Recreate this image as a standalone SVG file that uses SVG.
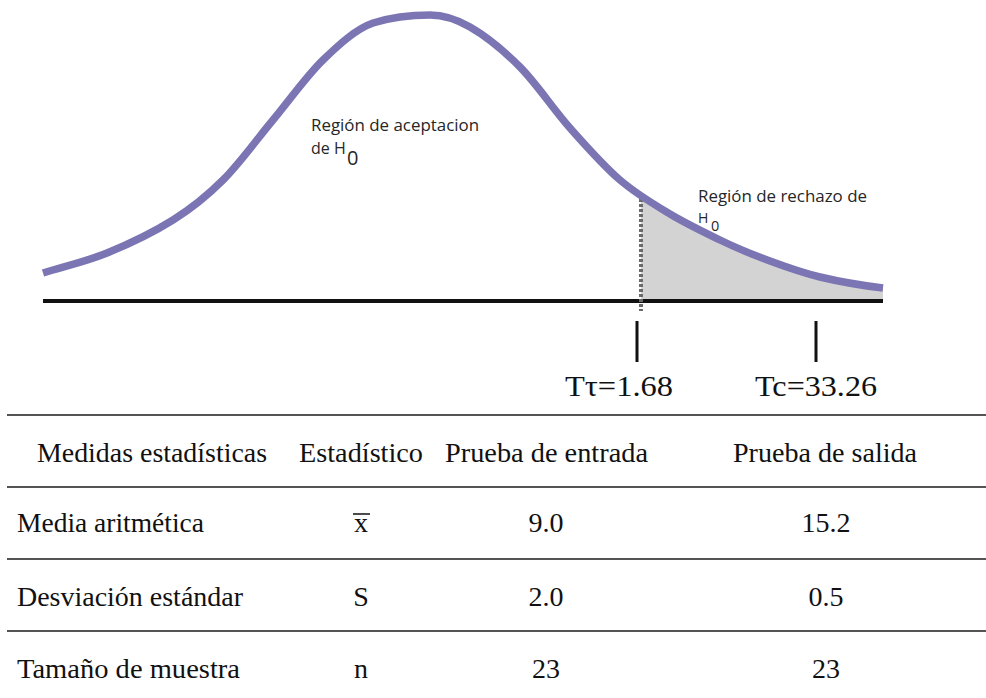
<svg xmlns="http://www.w3.org/2000/svg" width="986" height="698" viewBox="0 0 986 698">
<style>
.curve{fill:none;stroke:#7b76b3;stroke-width:7.5;stroke-linecap:butt}
.lbl{font-family:"Open Sans","Liberation Sans",sans-serif;font-size:16px;fill:#262626}
.serif{font-family:"Liberation Serif","Times New Roman",serif;fill:#111}
.t{font-size:28px}
.big{font-size:30px}
.rule{stroke:#555;stroke-width:2}
.tick{stroke:#111;stroke-width:3}
</style>
<defs>
<clipPath id="tail"><rect x="641" y="0" width="250" height="302"/></clipPath>
<path id="bell" d="M43,273 C64.3,266.3 85.7,261.7 107,253 C129,244 151,233.8 173,220 C189.7,209.5 206.3,196.7 223,180 C239.7,163.3 256.3,140 273,120 C289.7,100 306.3,76.2 323,60 C339.7,43.8 356.3,28.8 373,23 C392,17 411,15 430,15 C443.3,15 456.7,19.3 470,27 C486.7,36.6 503.3,50.2 520,67 C536.7,83.8 553.3,109.2 570,128 C586.7,146.8 603.3,165.7 620,180 C636.7,194.3 653.3,204 670,214 C686.7,224 703.3,231.8 720,240 C736.7,248.2 753.3,254.8 770,261 C786.7,267.2 803.3,273 820,277 C841,282 862,285.5 883,288"/>
</defs>
<rect width="986" height="698" fill="#fff"/>

<g id="shaded-region" clip-path="url(#tail)">
<path fill="#d3d3d3" d="M43,273 C64.3,266.3 85.7,261.7 107,253 C129,244 151,233.8 173,220 C189.7,209.5 206.3,196.7 223,180 C239.7,163.3 256.3,140 273,120 C289.7,100 306.3,76.2 323,60 C339.7,43.8 356.3,28.8 373,23 C392,17 411,15 430,15 C443.3,15 456.7,19.3 470,27 C486.7,36.6 503.3,50.2 520,67 C536.7,83.8 553.3,109.2 570,128 C586.7,146.8 603.3,165.7 620,180 C636.7,194.3 653.3,204 670,214 C686.7,224 703.3,231.8 720,240 C736.7,248.2 753.3,254.8 770,261 C786.7,267.2 803.3,273 820,277 C841,282 862,285.5 883,288 L883,301 L43,301 Z"/>
</g>

<g id="connectors">
<line id="baseline" x1="43" y1="301" x2="883" y2="301" stroke="#111" stroke-width="4"/>
<line id="critical-dashed" x1="641" y1="199" x2="641" y2="311" stroke="#6a6a6a" stroke-width="4" stroke-dasharray="3,2"/>
<line class="tick" x1="637" y1="321" x2="637" y2="362"/>
<line class="tick" x1="816" y1="321" x2="816" y2="362"/>
</g>

<g id="bell-curve">
<use href="#bell" class="curve"/>
</g>

<g id="label-aceptacion">
<text class="lbl" x="311" y="131" textLength="168" lengthAdjust="spacingAndGlyphs">Región de aceptacion</text>
<text class="lbl" x="311" y="154">de H</text>
<text class="lbl" x="347" y="165" style="font-size:20px">0</text>
</g>

<g id="label-rechazo">
<text class="lbl" x="698" y="202" textLength="169" lengthAdjust="spacingAndGlyphs">Región de rechazo de</text>
<text class="lbl" x="698" y="223" style="font-size:14px">H</text>
<text class="lbl" x="711" y="231" style="font-size:14.5px">0</text>
</g>

<g id="label-ttabla">
<text class="serif big" x="565" y="396" textLength="108" lengthAdjust="spacingAndGlyphs">Tτ=1.68</text>
</g>
<g id="label-tcalc">
<text class="serif big" x="755" y="396" textLength="122" lengthAdjust="spacingAndGlyphs">Tc=33.26</text>
</g>

<g id="table">
<line class="rule" x1="7" y1="415" x2="986" y2="415"/>
<line class="rule" x1="7" y1="487" x2="986" y2="487"/>
<line class="rule" x1="7" y1="559" x2="986" y2="559"/>
<line class="rule" x1="7" y1="631" x2="986" y2="631"/>

<g class="serif t">
<text x="37" y="462" textLength="230" lengthAdjust="spacingAndGlyphs">Medidas estadísticas</text>
<text x="299" y="462" textLength="124" lengthAdjust="spacingAndGlyphs">Estadístico</text>
<text x="445" y="462" textLength="203" lengthAdjust="spacingAndGlyphs">Prueba de entrada</text>
<text x="733" y="462" textLength="184" lengthAdjust="spacingAndGlyphs">Prueba de salida</text>

<text x="17" y="532" textLength="187" lengthAdjust="spacingAndGlyphs">Media aritmética</text>
<text x="361" y="532" text-anchor="middle">x</text>
<text x="546" y="532" text-anchor="middle">9.0</text>
<text x="826" y="532" text-anchor="middle">15.2</text>

<text x="17" y="606" textLength="226" lengthAdjust="spacingAndGlyphs">Desviación estándar</text>
<text x="361" y="606" text-anchor="middle">S</text>
<text x="546" y="606" text-anchor="middle">2.0</text>
<text x="826" y="606" text-anchor="middle">0.5</text>

<text x="17" y="678" textLength="223" lengthAdjust="spacingAndGlyphs">Tamaño de muestra</text>
<text x="361" y="678" text-anchor="middle">n</text>
<text x="546" y="678" text-anchor="middle">23</text>
<text x="826" y="678" text-anchor="middle">23</text>
</g>
<line x1="353" y1="514" x2="370" y2="514" stroke="#111" stroke-width="1.5"/>
</g>
</svg>
